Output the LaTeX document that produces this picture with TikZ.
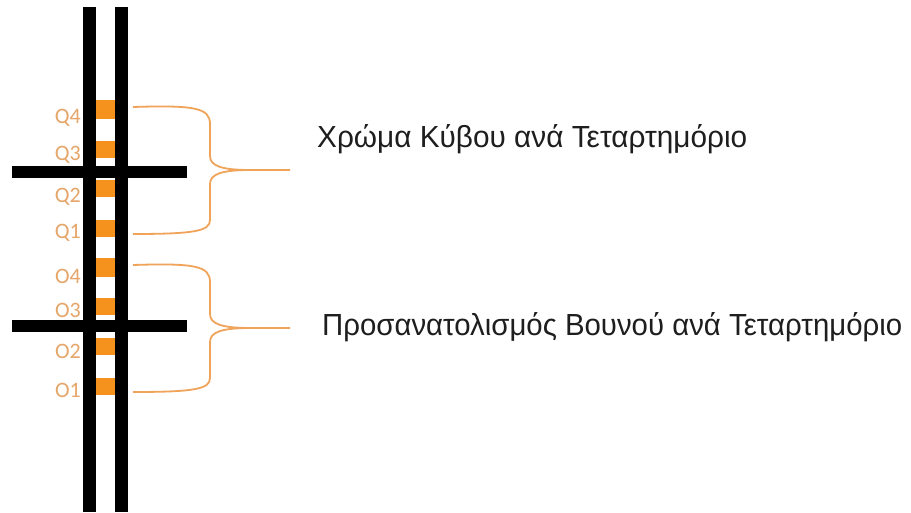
\documentclass[tikz,border=0pt]{standalone}
\usepackage{fontspec}
\setmainfont{Liberation Sans}
\newfontfamily\labelfont{Carlito}
\definecolor{sqorange}{HTML}{F5921E}
\definecolor{lblorange}{HTML}{E6A66A}
\definecolor{braceorange}{HTML}{F0A45A}
\definecolor{captext}{HTML}{1E1E1E}
% caption set at a given width, height kept
\newsavebox\capbox
\newcommand\fitcaption[2]{%
  \sbox\capbox{#2}%
  \pgfmathsetmacro\capscale{#1/\the\wd\capbox}%
  \scalebox{\capscale}[1]{\usebox\capbox}}
\begin{document}
\begin{tikzpicture}[x=1pt,y=-1pt,
  bar/.style={fill=black},
  cell/.style={fill=sqorange},
  qlabel/.style={anchor=base east,inner sep=0pt,text=lblorange,
    font=\labelfont\fontsize{22}{22}\selectfont},
  brace/.style={draw=braceorange,line width=1.8pt,line join=round},
  caption/.style={anchor=base west,inner sep=0pt,text=captext,
    font=\fontsize{30.5}{31}\selectfont}]
\useasboundingbox (0,0) rectangle (911,512);
\fill[white] (0,0) rectangle (911,512);

% quadrant labels (partly covered by the bars)
\foreach \t/\y in {Q4/123,Q3/160,Q2/202,Q1/238,O4/283,O3/317,O2/358,O1/397}
  \node[qlabel] (lbl\t) at (81,\y) {\t};

% coloured cells between the two rails
\foreach \t/\ya/\yb in {Q4/100/119,Q3/141/158,Q2/180/197,Q1/220/237,
                        O4/258/277,O3/298/315,O2/338/355,O1/378/395}
  \path[cell] (96,\ya) rectangle (115,\yb) coordinate (c\t);

% rails and cross bars
\path[bar] (83,7) rectangle (96,512);
\path[bar] (115,7) rectangle (128,512);
\path[bar] (12,166) rectangle (187,178);
\path[bar] (12,320) rectangle (187,332);

% captions
\node[caption] (colour) at (317,147) {\fitcaption{430}{Χρώμα Κύβου ανά Τεταρτημόριο}};
\node[caption] (orient) at (322,335) {\fitcaption{580}{Προσανατολισμός Βουνού ανά Τεταρτημόριο}};

% braces grouping the cells
\coordinate (tipA) at (290,170);
\coordinate (tipB) at (290,328);
\draw[brace] (133,107) .. controls (195,105) and (210,108) .. (210,124)
  -- (210,156) .. controls (210,166) and (222,170) .. (250,170) -- (tipA)
  (250,170) .. controls (222,170) and (210,174) .. (210,184)
  -- (210,220) .. controls (210,231) and (195,234) .. (133,234);
\draw[brace] (133,265) .. controls (195,263) and (210,266) .. (210,282)
  -- (210,314) .. controls (210,324) and (222,328) .. (250,328) -- (tipB)
  (250,328) .. controls (222,328) and (210,332) .. (210,342)
  -- (210,378) .. controls (210,389) and (195,392) .. (133,392);
\end{tikzpicture}
\end{document}
